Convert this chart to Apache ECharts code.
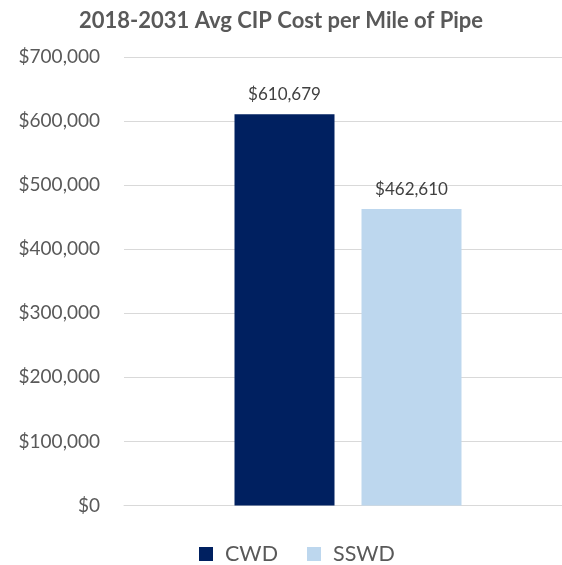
<!DOCTYPE html>
<html>
<head>
<meta charset="utf-8">
<script src="https://cdn.jsdelivr.net/npm/echarts@6/dist/echarts.min.js"></script>
<style>html,body{margin:0;padding:0;background:#fff;}#c{width:562px;height:565px;}</style>
</head>
<body>
<div id="c"></div>
<script>
const categories = ['2018-2031'];
const seriesNames = ['CWD', 'SSWD'];
const cwdValues = [610679];
const sswdValues = [462610];
const colors = ['#002060', '#BDD7EE'];

function money(v) {
  return '$' + Math.round(v).toString().replace(/\B(?=(\d{3})+(?!\d))/g, ',');
}

const chart = echarts.init(document.getElementById('c'), null, {renderer: 'canvas'});
const font = 'Lato, "Open Sans", sans-serif';
chart.setOption({
  animation: false,
  textStyle: {fontFamily: font},
  title: {
    text: '2018-2031 Avg CIP Cost per Mile of Pipe',
    left: 74, top: 5,
    textStyle: {fontFamily: font, fontSize: 22, fontWeight: 'bold', color: '#595959'}
  },
  legend: {
    data: seriesNames,
    top: 538, left: 194,
    icon: 'rect', itemWidth: 14, itemHeight: 14, itemGap: 29,
    textStyle: {fontFamily: font, fontSize: 21.5, color: '#595959', padding: [0, 0, 0, 7]}
  },
  grid: {left: 124, width: 448, top: 57, height: 448.5, containLabel: false, outerBoundsMode: 'none'},
  xAxis: {
    type: 'category', data: categories,
    axisLine: {lineStyle: {color: '#d9d9d9'}},
    axisTick: {show: false}, axisLabel: {show: false}
  },
  yAxis: {
    type: 'value', min: 0, max: 700000, interval: 100000,
    axisLine: {show: false}, axisTick: {show: false},
    splitLine: {lineStyle: {color: '#d9d9d9', width: 1}},
    axisLabel: {formatter: money, color: '#595959', fontSize: 19, fontFamily: font, margin: 24}
  },
  series: [
    {name: seriesNames[0], type: 'bar', data: cwdValues, barWidth: 100, barGap: '27%',
     itemStyle: {color: colors[0]},
     label: {show: true, position: 'top', formatter: p => money(p.value), color: '#404040', fontSize: 17, fontFamily: font, distance: 11}},
    {name: seriesNames[1], type: 'bar', data: sswdValues, barWidth: 100,
     itemStyle: {color: colors[1]},
     label: {show: true, position: 'top', formatter: p => money(p.value), color: '#404040', fontSize: 17, fontFamily: font, distance: 11}}
  ]
});
</script>
</body>
</html>
